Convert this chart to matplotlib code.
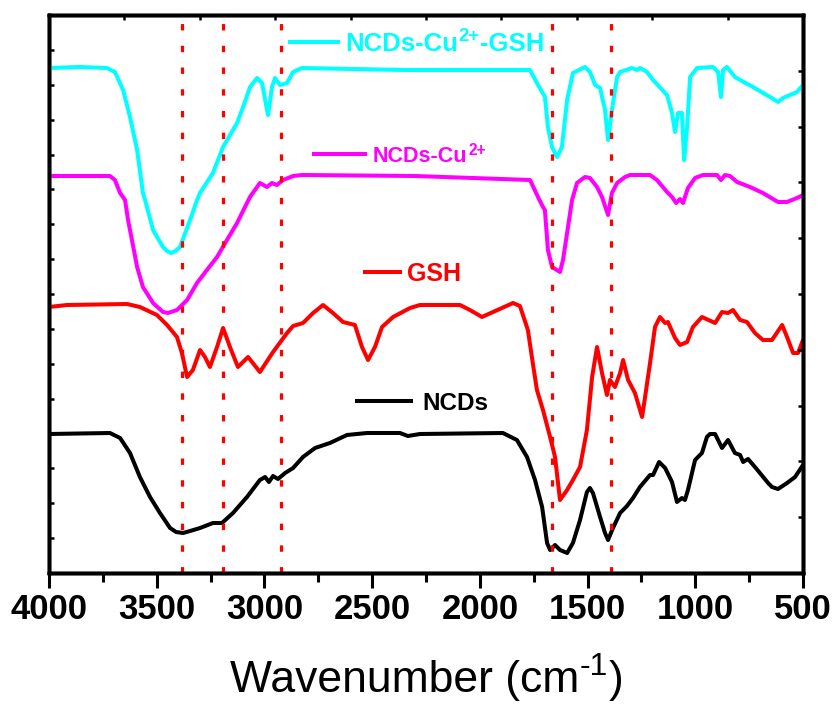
import numpy as np
import matplotlib
matplotlib.use("Agg")
import matplotlib.pyplot as plt

# ---------------- data (wavenumber cm-1, intensity a.u.) ----------------
cyan_wn = [4000, 3856, 3731, 3694, 3656, 3624, 3591, 3564, 3554, 3517, 3471, 3452, 3434, 3413,
           3392, 3345, 3313, 3299, 3239, 3192, 3127, 3099, 3067, 3034, 3011, 2988, 2983, 2965,
           2951, 2928, 2895, 2867, 2826, 2348, 2032, 1767, 1735, 1698, 1684, 1665, 1642, 1619,
           1595, 1568, 1512, 1489, 1465, 1442, 1419, 1405, 1387, 1363, 1349, 1294, 1270, 1257,
           1224, 1196, 1131, 1108, 1094, 1080, 1062, 1052, 1038, 1024, 992, 918, 894, 881, 871,
           853, 816, 792, 732, 653, 616, 593, 528, 500]
cyan_t = [505, 506, 505, 501, 483, 456, 423, 380, 373, 343, 326, 322, 320, 322,
          326, 353, 373, 380, 400, 426, 450, 466, 486, 495, 490, 463, 458, 486,
          495, 488, 490, 501, 505, 503, 503, 503, 490, 476, 446, 426, 416, 426,
          473, 500, 506, 501, 488, 485, 463, 433, 463, 496, 501, 505, 503, 505,
          501, 493, 478, 460, 441, 460, 460, 413, 446, 496, 505, 506, 501, 476, 503,
          506, 496, 493, 486, 476, 471, 475, 481, 488]

mag_wn = [4000, 3717, 3694, 3670, 3647, 3633, 3615, 3591, 3564, 3517, 3471, 3448, 3406, 3359,
          3313, 3267, 3220, 3174, 3127, 3081, 3067, 3021, 2988, 2965, 2942, 2914, 2867, 2826,
          2300, 1767, 1730, 1707, 1698, 1684, 1665, 1628, 1614, 1595, 1572, 1549, 1512, 1489,
          1456, 1433, 1405, 1387, 1363, 1326, 1303, 1210, 1178, 1131, 1108, 1089, 1071, 1057,
          1034, 1001, 964, 899, 881, 862, 839, 806, 746, 686, 616, 574, 528, 500]
mag_t = [397, 397, 393, 380, 373, 353, 333, 306, 286, 270, 261, 260, 263, 273,
         290, 303, 316, 333, 350, 370, 376, 390, 386, 390, 388, 393, 397, 398,
         397, 393, 376, 366, 363, 323, 306, 301, 313, 340, 373, 390, 396, 395,
         386, 376, 358, 380, 390, 396, 398, 398, 393, 381, 376, 370, 374, 370,
         385, 395, 398, 398, 393, 398, 397, 391, 386, 380, 371, 371, 375, 378]

gsh_wn = [4000, 3916, 3638, 3578, 3499, 3452, 3406, 3383, 3359, 3332, 3299, 3276, 3253, 3220,
          3192, 3160, 3123, 3076, 3021, 2960, 2895, 2867, 2821, 2774, 2728, 2682, 2635, 2580,
          2547, 2519, 2487, 2454, 2403, 2324, 2278, 2092, 2046, 1990, 1939, 1846, 1814, 1777,
          1753, 1735, 1707, 1674, 1651, 1628, 1595, 1568, 1535, 1503, 1479, 1456, 1433, 1410,
          1396, 1373, 1349, 1335, 1312, 1280, 1247, 1233, 1210, 1187, 1164, 1140, 1127, 1094,
          1071, 1038, 1011, 969, 908, 876, 848, 825, 792, 760, 723, 686, 644, 597, 574, 546,
          523, 500]
gsh_t = [266, 268, 269, 266, 258, 248, 236, 220, 196, 203, 223, 216, 206, 226,
         245, 226, 206, 216, 201, 221, 240, 247, 250, 260, 268, 260, 251, 248,
         226, 213, 226, 246, 256, 265, 268, 268, 263, 256, 261, 270, 267, 243,
         208, 183, 163, 136, 116, 73, 83, 93, 106, 143, 196, 226, 200, 178,
         193, 186, 200, 213, 193, 180, 156, 176, 210, 246, 256, 250, 251, 235,
         228, 231, 246, 256, 250, 261, 260, 263, 253, 251, 240, 233, 233, 248, 236, 220,
         220, 233]

ncd_wn = [4000, 3717, 3670, 3624, 3578, 3531, 3485, 3438, 3410, 3378, 3345, 3299, 3239, 3197,
          3146, 3081, 3021, 2997, 2979, 2960, 2937, 2904, 2867, 2821, 2765, 2696, 2617, 2524,
          2371, 2334, 2278, 1893, 1828, 1781, 1744, 1711, 1688, 1674, 1651, 1628, 1595, 1568,
          1535, 1503, 1489, 1475, 1442, 1419, 1405, 1382, 1349, 1317, 1289, 1257, 1210, 1196,
          1168, 1140, 1108, 1085, 1062, 1048, 1034, 1001, 969, 946, 932, 908, 876, 848, 816,
          792, 778, 755, 723, 662, 644, 616, 574, 537, 500]
ncd_t = [139, 140, 135, 120, 96, 76, 60, 45, 41, 40, 42, 45, 50, 50,
         60, 76, 93, 96, 91, 97, 94, 100, 105, 116, 125, 130, 138, 140,
         140, 137, 139, 140, 133, 116, 93, 66, 30, 23, 28, 23, 20, 30,
         53, 81, 85, 80, 56, 40, 33, 45, 60, 67, 75, 86, 98, 98,
         111, 105, 91, 71, 75, 73, 83, 113, 120, 136, 139, 139, 125, 133, 120,
         118, 111, 114, 106, 90, 86, 84, 90, 96, 108]

marker_wn = [3384, 3194, 2923, 1667, 1393]

# label parts: (base, superscript, tail)
label_parts = [("NCDs-Cu", "2+", "-GSH"), ("NCDs-Cu", "2+", ""), ("GSH", "", ""), ("NCDs", "", "")]
colors = ["#00FFFF", "#FF00FF", "#FF0000", "#000000"]
xticks = [4000, 3500, 3000, 2500, 2000, 1500, 1000, 500]

plt.rcParams["font.family"] = ["Liberation Sans", "DejaVu Sans"]

W, H = 837, 704
fig = plt.figure(figsize=(W / 100, H / 100), dpi=100)
ax = fig.add_axes([49 / W, 1 - 573 / H, 754 / W, 558 / H])
ax.set_xlim(4000, 500)
ax.set_ylim(0, 558)

lw = 2.9
for wn, t, c in zip([cyan_wn, mag_wn, gsh_wn, ncd_wn], [cyan_t, mag_t, gsh_t, ncd_t], colors):
    ax.plot(wn, t, color=c, lw=lw, solid_joinstyle="round", solid_capstyle="round", zorder=3)

for m in marker_wn:
    ax.axvline(m, color="#FF0000", lw=2.3, linestyle=(0, (2.0, 4.8)), zorder=4)


def sup_label(x, y, base, sup, tail, fs, color, weight, transform):
    t1 = fig.text(x, y, base, color=color, fontsize=fs, fontweight=weight,
                  ha="left", va="baseline", transform=transform)
    if sup:
        t2 = ax.annotate(sup, xy=(1, 0), xycoords=t1, xytext=(0.5, fs * 0.42),
                         textcoords="offset points", color=color, fontsize=fs * 0.72,
                         fontweight=weight, ha="left", va="bottom", annotation_clip=False)
        if tail:
            ax.annotate(tail, xy=(1, 0), xycoords=(t2, t1), xytext=(0.5, 0),
                        textcoords="offset points", color=color, fontsize=fs,
                        fontweight=weight, ha="left", va="bottom", annotation_clip=False)
    return t1


# in-plot labels with short line segments
leg = [  # (x0, x1, y, xtext, fontsize)
    (2891, 2649, 531, 2626, 18.5),
    (2779, 2524, 419, 2496, 15.5),
    (2542, 2361, 301, 2338, 18),
    (2580, 2310, 172, 2268, 17.5),
]
for (x0, x1, yy, xt, fs), (b, s, tl), c in zip(leg, label_parts, colors):
    ax.plot([x0, x1], [yy, yy], color=c, lw=lw, solid_capstyle="butt", zorder=3)
    sup_label(xt, yy - fs * 1.389 * 0.36, b, s, tl, fs, c, "bold", ax.transData)

# spines / ticks
for s in ax.spines.values():
    s.set_linewidth(2.5)
ax.set_xticks(xticks)
ax.set_xticks(np.arange(500, 4001, 250), minor=True)
ax.set_xticklabels([str(v) for v in xticks], fontsize=25, fontweight="bold")
ax.set_yticks(np.linspace(0, 558, 17))
ax.set_yticklabels([])
ax.tick_params(axis="x", which="major", direction="out", length=10.5, width=2.2, pad=4,
               top=False)
ax.tick_params(axis="x", which="minor", direction="out", length=6.5, width=2.2, top=False)
ax.tick_params(axis="y", which="major", direction="in", length=3.5, width=1.8, right=False)

axr = ax.twinx()
axr.set_ylim(0, 10)
axr.set_yticks(np.arange(0, 11))
axr.set_yticklabels([])
axr.tick_params(axis="y", direction="in", length=3.5, width=1.8)
axt = ax.twiny()
axt.set_xlim(0, 10)
axt.set_xticks(np.arange(0, 11))
axt.set_xticklabels([])
axt.tick_params(axis="x", direction="in", length=3.5, width=1.8)
for a in (axr, axt):
    for s in a.spines.values():
        s.set_linewidth(2.5)

# x-axis title
sup_label(230 / W, 1 - 692 / H, "Wavenumber (cm", "-1", ")", 32, "black", "normal",
          fig.transFigure)

fig.savefig("out.png", dpi=100)
